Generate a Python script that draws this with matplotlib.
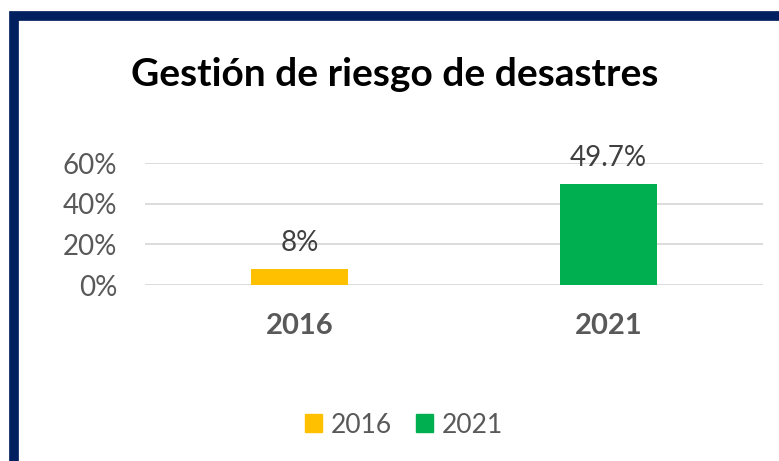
import matplotlib.pyplot as plt
from matplotlib.patches import Patch

# data
categories = ['2016', '2021']
values = [8.0, 49.7]
value_labels = ['8%', '49.7%']
colors = ['#FFC000', '#00B050']
yticks = [0, 20, 40, 60]

plt.rcParams['font.family'] = ['Lato', 'DejaVu Sans']

fig = plt.figure(figsize=(7.79, 4.61), dpi=100)

# navy frame on top and left
frame = fig.add_axes([0, 0, 1, 1])
frame.set_xlim(0, 779)
frame.set_ylim(461, 0)
frame.axis('off')
frame.plot([14.5, 14.5, 779], [461, 16, 16], color='#002060', lw=7,
           solid_joinstyle='miter', solid_capstyle='butt')

ax = fig.add_axes([145 / 779, 1 - 285 / 461, (763 - 145) / 779, (285 - 163) / 461])
x = range(len(categories))
bars = ax.bar(x, values, width=0.315, color=colors, zorder=3)
ax.set_xlim(-0.5, 1.5)
ax.set_ylim(0, 60)
ax.set_yticks(yticks)
ax.set_yticklabels([f'{t}%' for t in yticks], fontsize=20, color='#595959')
ax.set_xticks(list(x))
ax.set_xticklabels(categories, fontsize=21, fontweight='bold', color='#595959')
ax.tick_params(axis='both', length=0)
ax.tick_params(axis='x', pad=20)
ax.tick_params(axis='y', pad=20)
ax.grid(axis='y', color='#D9D9D9', lw=1.3, zorder=0)
for s in ax.spines.values():
    s.set_visible(False)

for b, lab in zip(bars, value_labels):
    ax.annotate(lab, (b.get_x() + b.get_width() / 2, b.get_height()),
                xytext=(0, 9), textcoords='offset points', ha='center', va='bottom',
                fontsize=20, color='#404040')

fig.text(395 / 779, 1 - 74 / 461, 'Gestión de riesgo de desastres', ha='center', va='center',
         fontsize=28, fontweight='bold', color='black')

handles = [Patch(color=c, label=l) for c, l in zip(colors, categories)]
fig.legend(handles=handles, loc='center', bbox_to_anchor=(404 / 779, 1 - 425 / 461), ncol=2,
           frameon=False, fontsize=19, labelcolor='#595959', handlelength=0.65, handleheight=0.65,
           handletextpad=0.35, columnspacing=0.9)

fig.savefig('out.png', dpi=100)
